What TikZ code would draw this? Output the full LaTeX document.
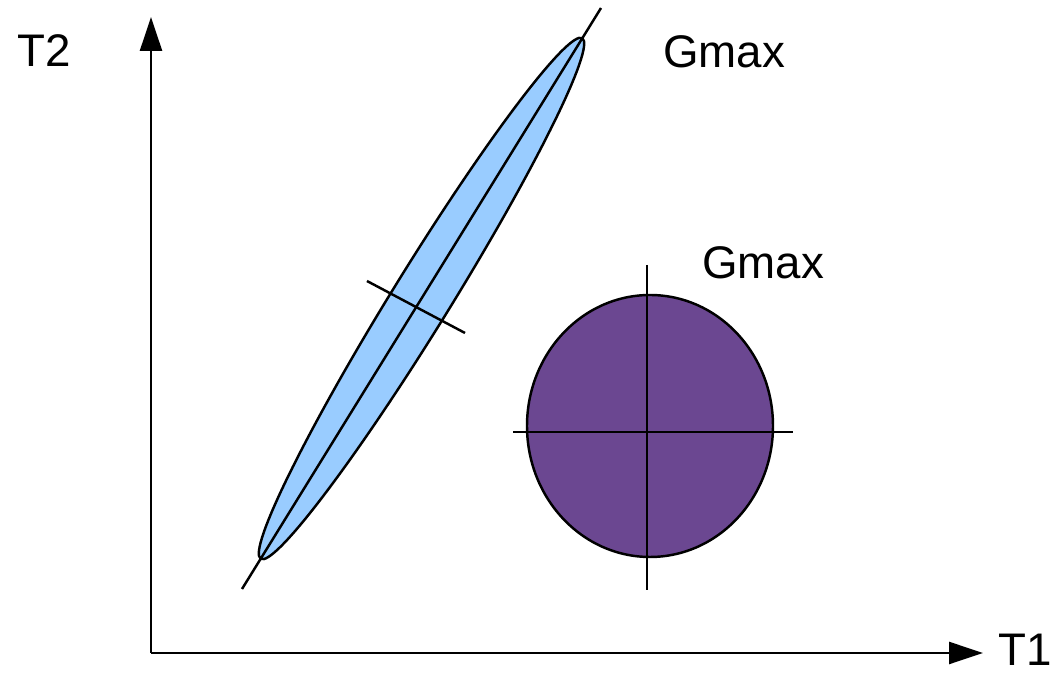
\documentclass[tikz,border=0pt]{standalone}
\usepackage{fontspec}
\setmainfont{Liberation Sans}
\usetikzlibrary{arrows.meta}
\definecolor{lensblue}{RGB}{153,204,255}
\definecolor{discpurple}{RGB}{107,71,145}

\begin{document}
\begin{tikzpicture}[
    axis/.style = {draw=black, line width=1.4pt, -{Triangle[length=0.68cm, width=0.44cm]}},
    edge/.style = {draw=black, line width=1.4pt},
    plotlabel/.style = {inner sep=0pt, anchor=base west, font=\fontsize{26}{30}\selectfont}
]
\useasboundingbox (0,0) rectangle (21.26,13.48);

% Axes (origin bottom left)
\coordinate (origin) at (3.02, 0.42);
\coordinate (ytip) at (3.02, 13.14);
\coordinate (xtip) at (19.66, 0.42);
\draw [axis] (origin) -- (ytip);
\draw [axis] (origin) -- (xtip);

\node (t2label) [plotlabel] at (0.34, 12.14) {T2};
\node (t1label) [plotlabel] at (19.96, 0.16) {T1};

% Elongated distribution along the diagonal
\coordinate (lenscentre) at (8.43, 7.51);
\draw [edge, fill=lensblue, rotate around={58.3:(lenscentre)}] (lenscentre) ellipse [x radius=6.12, y radius=0.58];
\coordinate (diaglow) at (4.84, 1.70);
\coordinate (diaghigh) at (12.02, 13.32);
\draw [edge] (diaglow) -- (diaghigh);
\coordinate (crossa) at (7.34, 7.86);
\coordinate (crossb) at (9.30, 6.82);
\draw [edge] (crossa) -- (crossb);
\node (gmaxtop) [plotlabel] at (13.26, 12.12) {Gmax};

% Round distribution
\coordinate (disccentre) at (13.00, 4.96);
\draw [edge, fill=discpurple] (disccentre) ellipse [x radius=2.46, y radius=2.62];
\coordinate (hleft) at (10.26, 4.84);
\coordinate (hright) at (15.86, 4.84);
\coordinate (vtop) at (12.94, 8.18);
\coordinate (vbottom) at (12.94, 1.68);
\draw [edge] (hleft) -- (hright);
\draw [edge] (vtop) -- (vbottom);
\node (gmaxright) [plotlabel] at (14.04, 7.90) {Gmax};

\end{tikzpicture}
\end{document}
